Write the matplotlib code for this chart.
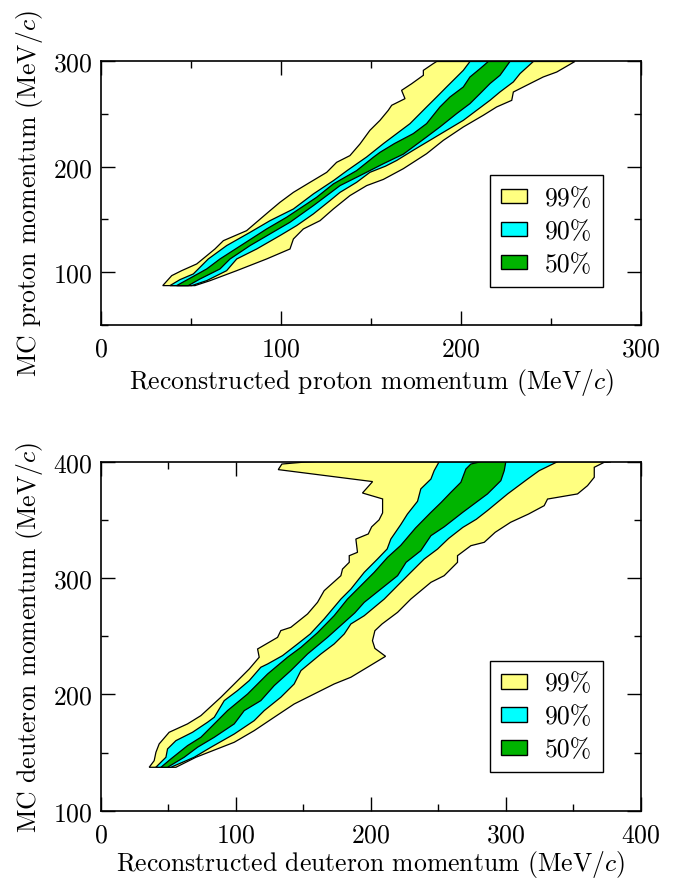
import matplotlib
matplotlib.use("Agg")
import matplotlib.pyplot as plt
from matplotlib.patches import Patch
from matplotlib.ticker import MultipleLocator

plt.rcParams['font.family'] = 'serif'
plt.rcParams['font.serif'] = ['cmr10']
plt.rcParams['mathtext.fontset'] = 'cm'
plt.rcParams['axes.formatter.use_mathtext'] = True

# confidence levels and their colours
levels = ['99%', '90%', '50%']
colors = ['#ffff80', '#00ffff', '#00b400']

# proton panel: contour boundaries as (reco momentum, MC momentum)
p_99_left = [(34.3, 87.1), (39.3, 96.6), (44.8, 101.3), (53.2, 107.7), (63.3, 121.9), (68.0, 129.8),
             (80.9, 139.3), (87.4, 148.8), (93.9, 158.3), (99.4, 166.2), (106.9, 175.7), (116.1, 185.2),
             (125.4, 194.7), (130.9, 204.2), (138.3, 210.6), (143.9, 221.7), (149.4, 234.6), (155.0, 244.1),
             (159.6, 253.6), (161.5, 258.4), (168.9, 264.7), (167.0, 272.6), (172.6, 278.9), (179.1, 286.9),
             (179.1, 291.6), (184.6, 298.0), (186.5, 300)]
p_99_right = [(52.2, 87.1), (60.6, 91.8), (75.4, 101.3), (92.0, 112.4), (105.0, 121.9), (106.9, 131.4),
              (112.4, 140.9), (121.7, 148.8), (129.1, 159.9), (138.3, 172.6), (147.6, 182.1), (156.9, 188.0),
              (168.0, 198.2), (180.9, 212.4), (190.2, 225.1), (201.3, 237.8), (212.4, 248.9), (219.8, 256.8),
              (228.2, 263.1), (229.1, 271.0), (236.5, 277.4), (245.7, 285.3), (253.2, 290.0), (263.3, 300)]
p_90_left = [(38.3, 87.1), (43.9, 92.8), (51.3, 98.2), (59.6, 112.4), (69.8, 125.1), (82.8, 137.7),
             (93.9, 148.8), (106.9, 159.9), (118.0, 174.2), (129.1, 186.8), (137.0, 196.7), (147.6, 209.3),
             (156.9, 222.0), (164.3, 231.5), (171.7, 241.0), (180.9, 256.8), (186.5, 266.3), (192.0, 275.8),
             (197.6, 285.3), (201.3, 291.6), (205.0, 300)]
p_90_right = [(50.4, 87.1), (58.7, 91.8), (69.8, 101.3), (75.4, 112.4), (86.5, 121.9), (99.4, 134.6),
              (108.7, 144.1), (118.0, 155.2), (127.2, 167.8), (132.8, 175.7), (142.0, 185.2), (149.4, 194.7),
              (158.0, 200.5), (164.3, 206.0), (173.5, 215.7), (182.8, 225.2), (192.0, 234.6), (201.3, 244.1),
              (208.7, 253.6), (216.1, 263.1), (221.7, 271.1), (229.1, 280.6), (232.8, 288.5), (240.2, 300)]
p_50_left = [(42.0, 87.1), (50.4, 95.0), (58.7, 102.9), (66.1, 112.4), (79.1, 126.7), (92.0, 140.9),
             (103.1, 152.0), (114.3, 164.7), (119.8, 171.0), (129.1, 183.7), (142.0, 196.3), (151.3, 209.0),
             (155.0, 213.7), (163.0, 222.0), (173.5, 231.5), (180.9, 241.0), (188.3, 256.8), (193.9, 266.3),
             (201.3, 275.8), (205.0, 285.3), (210.6, 293.2), (215.2, 300)]
p_50_right = [(48.5, 87.1), (55.0, 93.4), (66.1, 102.9), (71.7, 112.4), (82.8, 125.1), (93.9, 136.2),
              (105.0, 147.3), (118.0, 163.1), (125.4, 172.6), (132.8, 182.1), (143.9, 191.6), (157.0, 203.0),
              (168.0, 212.0), (180.9, 228.3), (188.3, 237.8), (197.6, 250.5), (205.0, 260.0), (210.6, 269.5),
              (216.1, 279.0), (221.7, 286.9), (227.2, 300)]

# deuteron panel
d_99_left = [(35.7, 137.3), (39.4, 143.0), (40.7, 150.2), (43.1, 157.4), (50.5, 167.4), (64.1, 174.6),
             (74.0, 181.7), (88.8, 197.5), (98.7, 208.9), (109.8, 221.8), (117.2, 231.9), (116.0, 239.0),
             (130.8, 249.0), (133.2, 254.8), (140.6, 257.6), (153.0, 269.1), (160.4, 279.1), (165.3, 289.1),
             (177.7, 302.0), (178.9, 307.7), (183.9, 313.5), (183.9, 319.2), (190.0, 322.1), (188.8, 333.5),
             (198.0, 337.9), (200.5, 344.0), (206.0, 350.0), (208.6, 356.0), (208.6, 368.0), (193.7, 373.1),
             (201.2, 382.9), (131.3, 393.2), (134.0, 398.0), (150.0, 399.6), (160.0, 400)]
d_99_right = [(55.5, 137.3), (70.3, 145.9), (98.7, 158.8), (113.5, 168.8), (128.3, 180.3), (143.1, 191.7),
              (157.9, 200.3), (172.7, 208.9), (185.1, 214.7), (197.4, 223.3), (210.8, 232.7), (202.9, 239.5),
              (201.1, 246.1), (202.9, 254.7), (208.2, 260.5), (219.7, 270.5), (229.5, 281.9), (244.4, 296.3),
              (254.2, 302.0), (264.1, 313.5), (264.1, 319.2), (274.0, 327.8), (283.9, 330.7), (292.0, 339.3),
              (303.4, 347.9), (316.7, 355.0), (328.3, 362.2), (330.8, 367.9), (353.0, 372.3), (360.4, 379.4),
              (365.4, 386.6), (365.4, 395.2), (372.8, 399.5), (377.7, 400)]
d_90_left = [(40.6, 137.3), (48.1, 145.9), (49.3, 153.1), (55.5, 160.2), (67.8, 167.4), (78.9, 176.0),
             (83.9, 180.3), (91.3, 194.6), (101.1, 203.2), (109.8, 211.8), (118.4, 223.3), (123.4, 226.1),
             (134.5, 233.3), (145.6, 243.3), (155.0, 251.9), (165.3, 264.8), (177.7, 281.9), (185.1, 290.5),
             (195.0, 304.9), (204.8, 316.3), (212.0, 325.0), (214.7, 333.5), (222.1, 346.0), (227.0, 355.0),
             (234.5, 366.0), (236.9, 376.6), (244.4, 385.1), (246.8, 392.3), (250.5, 400)]
d_90_right = [(51.8, 137.3), (69.0, 145.9), (81.4, 154.5), (98.7, 165.9), (113.5, 177.4), (120.9, 186.0),
              (133.2, 197.5), (143.1, 208.9), (148.1, 220.4), (162.9, 234.7), (172.7, 243.3), (180.2, 251.9),
              (185.1, 260.5), (195.0, 267.6), (209.8, 281.9), (222.1, 296.3), (229.5, 304.9), (239.4, 316.3),
              (249.3, 324.9), (257.5, 334.0), (268.0, 343.5), (278.0, 350.5), (286.3, 358.0), (301.2, 372.3),
              (316.0, 385.1), (324.6, 392.3), (338.2, 400)]
d_50_left = [(44.4, 137.3), (51.8, 144.5), (64.1, 155.9), (74.0, 163.1), (83.9, 174.6), (93.7, 186.0),
             (108.6, 200.3), (123.4, 217.5), (138.2, 231.9), (148.1, 240.4), (160.4, 253.0), (172.7, 267.6),
             (182.6, 281.9), (192.5, 293.4), (202.4, 304.9), (212.3, 317.8), (222.0, 328.0), (233.0, 343.0),
             (244.0, 356.0), (252.0, 365.0), (259.2, 373.7), (266.6, 382.3), (270.3, 393.7), (274.0, 398.0),
             (281.4, 400)]
d_50_right = [(49.3, 137.3), (61.6, 145.9), (71.5, 154.5), (83.9, 163.1), (98.7, 174.6), (106.1, 186.0),
              (118.4, 194.6), (128.3, 207.5), (140.6, 220.4), (153.0, 234.7), (167.8, 249.0), (180.2, 261.9),
              (188.0, 270.0), (195.0, 279.1), (207.3, 290.5), (219.7, 302.0), (226.0, 313.5), (236.9, 323.5),
              (244.4, 336.4), (254.2, 344.0), (268.0, 356.5), (286.3, 372.3), (296.2, 383.7), (298.7, 392.3),
              (299.9, 400)]

FS = 18.5


def draw_band(ax, left, right, color):
    pts = left + right[::-1]
    xs = [p[0] for p in pts]
    ys = [p[1] for p in pts]
    ax.fill(xs, ys, facecolor=color, edgecolor='black', linewidth=0.9, zorder=2)


def style_axes(ax, xmax, ymin, ymax, leg_y):
    ax.set_xlim(0, xmax)
    ax.set_ylim(ymin, ymax)
    ax.xaxis.set_major_locator(MultipleLocator(100))
    ax.xaxis.set_minor_locator(MultipleLocator(50))
    ax.yaxis.set_major_locator(MultipleLocator(100))
    ax.yaxis.set_minor_locator(MultipleLocator(50))
    ax.tick_params(which='both', direction='in', top=True, right=True, width=1.0)
    ax.tick_params(which='major', length=10, labelsize=FS)
    ax.tick_params(which='minor', length=5)
    ax.tick_params(axis='x', which='major', pad=9)
    ax.tick_params(axis='y', which='major', pad=6)
    for s in ax.spines.values():
        s.set_linewidth(1.2)
        s.set_zorder(5)
    handles = [Patch(facecolor=c, edgecolor='black', linewidth=1.0) for c in colors]
    leg = ax.legend(handles, levels, loc='lower right', bbox_to_anchor=(0.930, leg_y),
                    fontsize=FS, frameon=True, fancybox=False, edgecolor='black', framealpha=1,
                    handlelength=1.04, handleheight=0.49, labelspacing=0.36, handletextpad=0.69,
                    borderpad=0.42, borderaxespad=0)
    leg.get_frame().set_linewidth(1.0)


fig = plt.figure(figsize=(6.87, 8.79), dpi=100)
ax1 = fig.add_axes([0.147, 0.6295, 0.786, 0.2994])
ax2 = fig.add_axes([0.147, 0.0766, 0.786, 0.397])

for left, right, c in [(p_99_left, p_99_right, colors[0]), (p_90_left, p_90_right, colors[1]),
                       (p_50_left, p_50_right, colors[2])]:
    draw_band(ax1, left, right, c)
style_axes(ax1, 300, 50, 300, 0.1444)
ax1.set_xlabel(r'Reconstructed proton momentum (MeV/$c$)', fontsize=FS, labelpad=4)
ax1.set_ylabel(r'MC proton momentum (MeV/$c$)', fontsize=FS, labelpad=6)

for left, right, c in [(d_99_left, d_99_right, colors[0]), (d_90_left, d_90_right, colors[1]),
                       (d_50_left, d_50_right, colors[2])]:
    draw_band(ax2, left, right, c)
style_axes(ax2, 400, 100, 400, 0.110)
ax2.set_xlabel(r'Reconstructed deuteron momentum (MeV/$c$)', fontsize=FS, labelpad=1)
ax2.set_ylabel(r'MC deuteron momentum (MeV/$c$)', fontsize=FS, labelpad=6)

fig.savefig('out.png', dpi=100)
